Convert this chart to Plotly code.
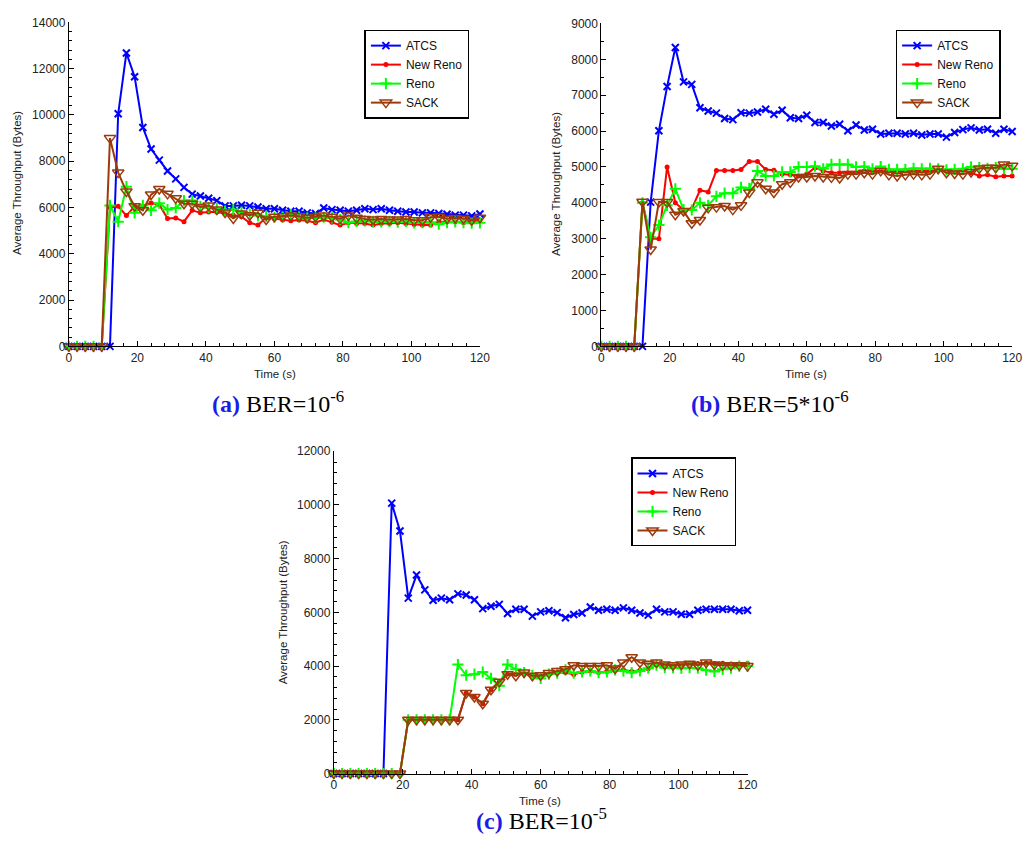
import plotly.graph_objects as go

# ---------------- data ----------------
time_s = [0, 2.4, 4.8, 7.2, 9.6, 12, 14.4, 16.8, 19.2, 21.6, 24, 26.4, 28.8, 31.2, 33.6, 36,
          38.4, 40.8, 43.2, 45.6, 48, 50.4, 52.8, 55.2, 57.6, 60, 62.4, 64.8, 67.2, 69.6, 72,
          74.4, 76.8, 79.2, 81.6, 84, 86.4, 88.8, 91.2, 93.6, 96, 98.4, 100.8, 103.2, 105.6,
          108, 110.4, 112.8, 115.2, 117.6, 120]

series_names = ["ATCS", "New Reno", "Reno", "SACK"]

# (a) BER = 1e-6
a_atcs = [0, 0, 0, 0, 0, 0, 10050, 12680, 11650, 9460, 8530, 8050, 7580, 7240, 6870, 6580,
          6500, 6400, 6300, 6070, 6070, 6100, 6070, 6020, 5950, 5950, 5880, 5840, 5840, 5770,
          5740, 5980, 5910, 5880, 5840, 5880, 5950, 5910, 5950, 5880, 5840, 5810, 5810, 5770,
          5770, 5740, 5710, 5670, 5670, 5640, 5720]
a_newreno = [0, 0, 0, 0, 0, 6000, 6050, 5650, 6050, 6050, 6200, 6120, 5530, 5550, 5390, 5880,
             5770, 5810, 5810, 5740, 5670, 5600, 5340, 5240, 5570, 5530, 5460, 5430, 5460, 5430,
             5340, 5480, 5360, 5240, 5340, 5310, 5310, 5240, 5310, 5310, 5340, 5310, 5270, 5240,
             5240, 5390, 5390, 5390, 5340, 5390, 5460]
a_reno = [0, 0, 0, 0, 0, 6090, 5390, 6900, 5770, 6090, 5880, 6190, 5910, 5980, 6300, 6300,
          6050, 5990, 5950, 5850, 5910, 5800, 5720, 5650, 5620, 5580, 5600, 5700, 5600, 5550,
          5550, 5580, 5550, 5480, 5350, 5400, 5420, 5400, 5380, 5400, 5370, 5400, 5330, 5350,
          5360, 5280, 5350, 5380, 5350, 5320, 5340]
a_sack = [0, 0, 0, 0, 0, 9000, 7510, 6690, 6060, 5880, 6560, 6800, 6590, 6400, 6160, 6160,
          6020, 6090, 5910, 5780, 5530, 5740, 5670, 5770, 5480, 5600, 5620, 5650, 5620, 5560,
          5600, 5650, 5600, 5520, 5650, 5560, 5500, 5480, 5500, 5480, 5480, 5500, 5450, 5450,
          5580, 5600, 5520, 5550, 5520, 5450, 5560]

# (b) BER = 5e-6
b_atcs = [0, 0, 0, 0, 0, 0, 4020, 6010, 7240, 8330, 7370, 7300, 6650, 6560, 6500, 6350,
          6320, 6510, 6500, 6530, 6610, 6470, 6580, 6370, 6350, 6440, 6240, 6240, 6140, 6190,
          6010, 6170, 6030, 6050, 5920, 5940, 5940, 5920, 5940, 5890, 5920, 5920, 5830, 5960,
          6040, 6090, 6030, 6050, 5940, 6050, 5990]
b_newreno = [0, 0, 0, 0, 0, 4000, 3000, 3000, 5000, 4000, 3800, 3830, 4350, 4300, 4900, 4900,
             4900, 4930, 5150, 5150, 4930, 4910, 4800, 4780, 4750, 4800, 4980, 4890, 4840, 4840,
             4840, 4840, 4890, 4890, 4890, 4910, 4890, 4910, 4890, 4890, 4890, 4930, 4890, 4890,
             4910, 4840, 4750, 4780, 4730, 4750, 4750]
b_reno = [0, 0, 0, 0, 0, 4000, 3040, 3380, 3930, 4390, 3810, 3800, 4000, 3930, 4180, 4270,
          4270, 4430, 4400, 4890, 4750, 4750, 4860, 4860, 5000, 5000, 5020, 4950, 5070, 5070,
          5070, 5000, 5010, 4950, 5010, 4930, 4930, 4930, 4960, 4950, 4960, 4950, 4920, 4930,
          4950, 5000, 4980, 4960, 4980, 4950, 4950]
b_sack = [0, 0, 0, 0, 0, 4030, 2700, 4020, 4020, 3670, 3770, 3430, 3520, 3860, 3880, 3910,
          3810, 3930, 4290, 4570, 4390, 4290, 4520, 4570, 4720, 4720, 4750, 4720, 4710, 4690,
          4800, 4800, 4840, 4800, 4890, 4780, 4750, 4780, 4800, 4780, 4800, 4950, 4840, 4820,
          4800, 4860, 4960, 4980, 4980, 5070, 5030]

# (c) BER = 1e-5
c_atcs = [0, 0, 0, 0, 0, 0, 0, 10070, 9030, 6530, 7390, 6840, 6450, 6530, 6470, 6690,
          6650, 6470, 6140, 6230, 6300, 5960, 6120, 6120, 5860, 6020, 6060, 5990, 5800, 5920,
          5980, 6200, 6080, 6120, 6080, 6170, 6080, 5980, 5900, 6120, 6020, 6020, 5930, 5930,
          6080, 6120, 6120, 6120, 6120, 6060, 6080]
c_newreno = [0, 0, 0, 0, 0, 0, 0, 0, 0, 2000, 2000, 2000, 2000, 2000, 2000, 2000,
             3000, 2850, 2600, 3120, 3420, 3700, 3700, 3720, 3650, 3620, 3700, 3750, 3760, 3690,
             3780, 3820, 3760, 3800, 3850, 3860, 3800, 3850, 3900, 4050, 4050, 4020, 4050, 4080,
             4100, 4120, 4100, 4110, 4080, 4070, 4100]
c_reno = [0, 0, 0, 0, 0, 0, 0, 0, 0, 2000, 2000, 2000, 2000, 2000, 2000, 4060,
          3660, 3700, 3780, 3540, 3270, 4060, 3880, 3760, 3660, 3540, 3700, 3740, 3860, 3740,
          3780, 3820, 3760, 3780, 3860, 3820, 3760, 3820, 3920, 4040, 3940, 3940, 3920, 3940,
          3920, 3850, 3800, 3880, 3920, 4000, 4000]
c_sack = [0, 0, 0, 0, 0, 0, 0, 0, 0, 2000, 2000, 2000, 2000, 2000, 2000, 2000,
          3000, 2850, 2600, 3120, 3420, 3700, 3640, 3760, 3640, 3660, 3740, 3820, 3880, 4030,
          4000, 4000, 4000, 4030, 3910, 4130, 4330, 4130, 4090, 4130, 4060, 4030, 4060, 4090,
          4030, 4130, 4060, 4030, 4030, 4030, 4000]

y_ranges = [[0, 14000], [0, 9000], [0, 12000]]
y_dticks = [2000, 1000, 2000]
y_minor = [400, 500, 400]
captions = ["(a)", "(b)", "(c)"]
caption_ber = ["BER=10<sup>-6</sup>", "BER=5*10<sup>-6</sup>", "BER=10<sup>-5</sup>"]

# ---------------- styles ----------------
C_BLUE = "#0000FF"
C_RED = "#FF0000"
C_GREEN = "#00FF00"
C_BROWN = "#9B3B0B"

styles = [
    dict(color=C_BLUE, marker=dict(symbol="x-thin", size=7, color=C_BLUE,
                                   line=dict(color=C_BLUE, width=2))),
    dict(color=C_RED, marker=dict(symbol="circle", size=5, color=C_RED,
                                  line=dict(width=0))),
    dict(color=C_GREEN, marker=dict(symbol="cross-thin", size=8, color=C_GREEN,
                                    line=dict(color=C_GREEN, width=2))),
    dict(color=C_BROWN, marker=dict(symbol="triangle-down-open", size=10, color=C_BROWN,
                                    line=dict(color=C_BROWN, width=1.5))),
]

panels = [
    [a_atcs, a_newreno, a_reno, a_sack],
    [b_atcs, b_newreno, b_reno, b_sack],
    [c_atcs, c_newreno, c_reno, c_sack],
]

W, H = 1034, 853

def px(x):
    return x / W

def py(y):
    return 1 - y / H

# plot areas in pixels (left, right, top, bottom)
boxes = [(66.7, 483, 15.7, 345), (606, 1022, 16.7, 345), (335, 754, 451.7, 779.3)]
legend_pos = [(366, 23), (904, 23), (636, 458)]
ytitle_pos = [(14, 179), (560, 180), (283, 615)]
xtitle_pos = [(275, 373), (813, 373), (544, 807)]
caption_pos = [(278, 402), (777, 402), (545, 826)]

fig = go.Figure()
legend_ids = ["legend", "legend2", "legend3"]

for p, series in enumerate(panels):
    xa = "x" if p == 0 else f"x{p+1}"
    ya = "y" if p == 0 else f"y{p+1}"
    for s, vals in enumerate(series):
        st = styles[s]
        fig.add_trace(go.Scatter(
            x=time_s, y=vals, name=series_names[s], mode="lines+markers",
            line=dict(color=st["color"], width=2), marker=st["marker"],
            xaxis=xa, yaxis=ya, legend=legend_ids[p], cliponaxis=False,
        ))

tick_font = dict(family="Liberation Sans, Arial, sans-serif", size=12, color="#222222")
layout = dict(
    width=W, height=H, margin=dict(l=0, r=0, t=0, b=0),
    paper_bgcolor="white", plot_bgcolor="white", showlegend=True,
    annotations=[],
)

for p in range(3):
    l, r, t, b = boxes[p]
    xk = "xaxis" if p == 0 else f"xaxis{p+1}"
    yk = "yaxis" if p == 0 else f"yaxis{p+1}"
    xa = "x" if p == 0 else f"x{p+1}"
    ya = "y" if p == 0 else f"y{p+1}"
    layout[xk] = dict(
        domain=[px(l), px(r)], anchor=ya, range=[0, 120], dtick=20, tick0=0,
        showline=True, linecolor="black", linewidth=1, ticks="inside", ticklen=5,
        tickcolor="black", showgrid=False, zeroline=False, tickfont=tick_font,
        minor=dict(dtick=4, ticks="inside", ticklen=3, tickcolor="black", showgrid=False),
    )
    layout[yk] = dict(
        domain=[py(b), py(t)], anchor=xa, range=y_ranges[p], dtick=y_dticks[p], tick0=0,
        showline=True, linecolor="black", linewidth=1, ticks="inside", ticklen=5,
        tickcolor="black", showgrid=False, zeroline=False, tickfont=tick_font,
        tickformat="d",
        minor=dict(dtick=y_minor[p], ticks="inside", ticklen=3, tickcolor="black", showgrid=False),
    )
    lx, ly = legend_pos[p]
    layout[legend_ids[p]] = dict(
        x=px(lx), y=py(ly), xanchor="left", yanchor="top",
        bordercolor="black", borderwidth=1.5, bgcolor="white",
        font=dict(family="Liberation Sans, Arial, sans-serif", size=12, color="#111111"),
        tracegroupgap=0, itemwidth=30,
    )
    yx, yy = ytitle_pos[p]
    layout["annotations"].append(dict(
        text="Average Throughput (Bytes)", x=px(yx), y=py(yy), xref="paper", yref="paper",
        showarrow=False, textangle=-90, xanchor="center", yanchor="middle",
        font=dict(family="Liberation Sans, Arial, sans-serif", size=11.5, color="#222222"),
    ))
    tx, ty = xtitle_pos[p]
    layout["annotations"].append(dict(
        text="Time (s)", x=px(tx), y=py(ty), xref="paper", yref="paper",
        showarrow=False, xanchor="center", yanchor="middle",
        font=dict(family="Liberation Sans, Arial, sans-serif", size=11.5, color="#222222"),
    ))
    cx, cy = caption_pos[p]
    layout["annotations"].append(dict(
        text=f"<b><span style='color:#1c1ce6'>{captions[p]}</span></b> {caption_ber[p]}",
        x=px(cx), y=py(cy), xref="paper", yref="paper",
        showarrow=False, xanchor="center", yanchor="middle",
        font=dict(family="Liberation Serif, Times New Roman, serif", size=24, color="black"),
    ))

fig.update_layout(**layout)
fig.write_html("out.html",
               config={"displayModeBar": False},
               post_script="document.body.style.margin='0';document.body.style.overflow='hidden';")
